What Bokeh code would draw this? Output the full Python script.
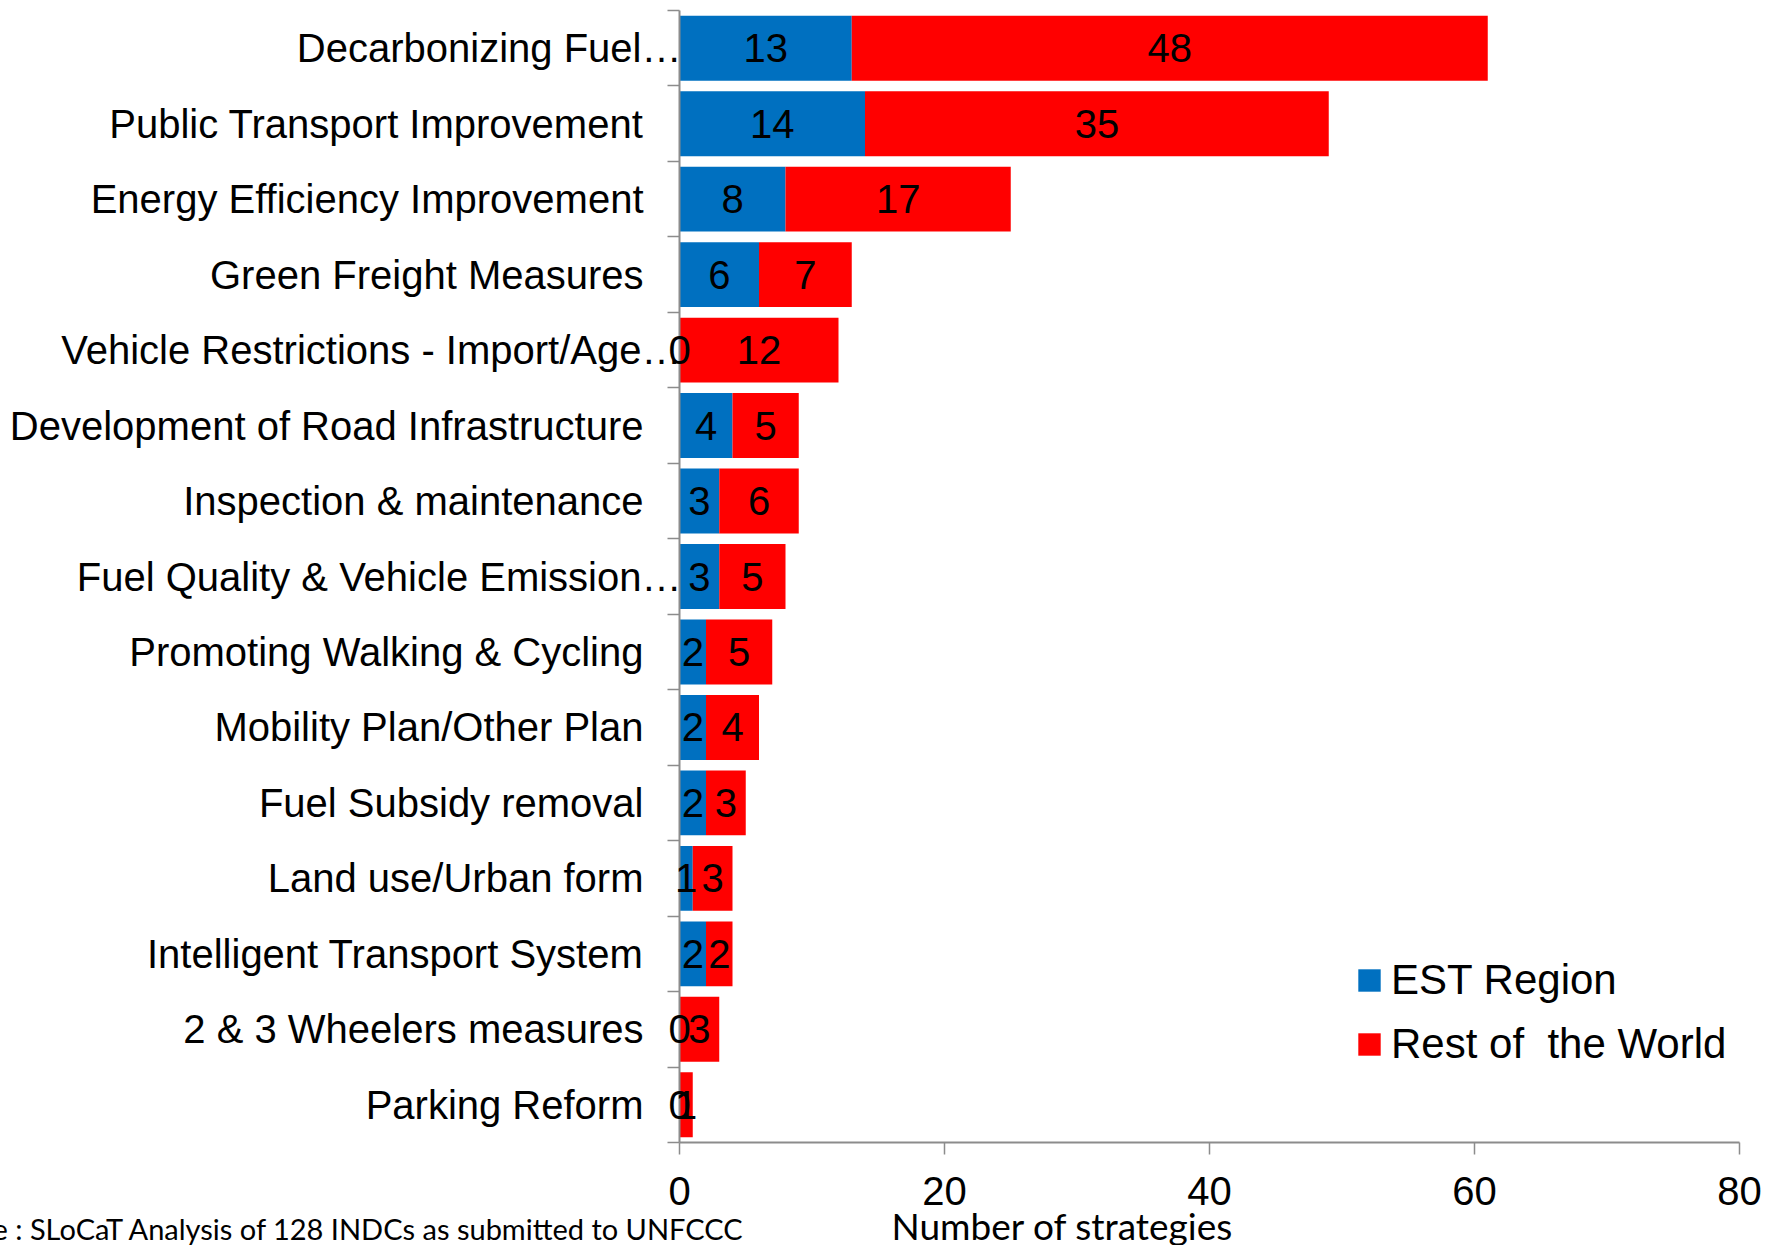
from bokeh.plotting import figure
from bokeh.models import Range1d, FixedTicker, ColumnDataSource, Legend, LegendItem
from bokeh.core.properties import value
from bokeh.embed import file_html
from bokeh.resources import INLINE

categories = [
    "Decarbonizing Fuel…",
    "Public Transport Improvement",
    "Energy Efficiency Improvement",
    "Green Freight Measures",
    "Vehicle Restrictions - Import/Age…",
    "Development of Road Infrastructure",
    "Inspection & maintenance",
    "Fuel Quality & Vehicle Emission…",
    "Promoting Walking & Cycling",
    "Mobility Plan/Other Plan",
    "Fuel Subsidy removal",
    "Land use/Urban form",
    "Intelligent Transport System",
    "2 & 3 Wheelers measures",
    "Parking Reform",
]
est_region = [13, 14, 8, 6, 0, 4, 3, 3, 2, 2, 2, 1, 2, 0, 0]
rest_of_world = [48, 35, 17, 7, 12, 5, 6, 5, 5, 4, 3, 3, 2, 3, 1]
x_ticks = [0, 20, 40, 60, 80]
series_names = ["EST Region", "Rest of  the World"]
x_title = "Number of strategies"
source_note = "Source : SLoCaT Analysis of 128 INDCs  as submitted to UNFCCC"

BLUE = "#0070C0"
RED = "#FF0000"
AXIS = "#8c8c8c"
ARIAL = "Liberation Sans"
CAL = "Lato"

n = len(categories)
ypos = list(range(n))
src = ColumnDataSource(dict(
    y=ypos,
    cat=categories,
    zero=[0] * n,
    # truncated (ellipsised) category names run up to the axis, as in the original
    cat_off=[2 if c.endswith("…") else -36 for c in categories],
    est=est_region,
    rest_left=est_region,
    rest_right=[a + b for a, b in zip(est_region, rest_of_world)],
    est_mid=[a / 2 for a in est_region],
    rest_mid=[a + b / 2 for a, b in zip(est_region, rest_of_world)],
    est_txt=[str(v) for v in est_region],
    rest_txt=[str(v) for v in rest_of_world],
))

p = figure(width=1765, height=1245, output_backend="svg", toolbar_location=None,
           x_range=Range1d(0, 80), y_range=Range1d(n - 0.5, -0.5),
           min_border_left=679, min_border_right=26, min_border_top=10, min_border_bottom=103,
           outline_line_color=None, background_fill_color="white", border_fill_color="white")
p.grid.visible = False

r_est = p.hbar(y="y", left=0, right="est", height=0.86, fill_color=BLUE, line_color=None, source=src)
r_rest = p.hbar(y="y", left="rest_left", right="rest_right", height=0.86, fill_color=RED, line_color=None, source=src)

for xcol, tcol in (("est_mid", "est_txt"), ("rest_mid", "rest_txt")):
    p.text(x=xcol, y="y", text=tcol, source=src, text_font=value(ARIAL), text_font_size="40px",
           text_color="black", text_align="center", text_baseline="middle", level="overlay")

# category names
p.text(x="zero", y="y", text="cat", x_offset="cat_off", source=src, text_font=value(ARIAL),
       text_font_size="40px", text_color="black", text_align="right", text_baseline="middle",
       level="overlay")

# x axis
xa = p.xaxis[0]
xa.ticker = FixedTicker(ticks=x_ticks, minor_ticks=[])
xa.axis_line_color = AXIS
xa.axis_line_width = 2
xa.major_tick_line_color = AXIS
xa.major_tick_line_width = 1.5
xa.major_tick_out = 12
xa.major_tick_in = 0
xa.minor_tick_line_color = None
xa.major_label_text_font = ARIAL
xa.major_label_text_font_size = "40px"
xa.major_label_text_color = "black"
xa.major_label_standoff = 22

# y axis: line + boundary ticks (names drawn above)
ya = p.yaxis[0]
bounds = [i - 0.5 for i in range(n + 1)]
ya.ticker = FixedTicker(ticks=ypos, minor_ticks=bounds)
ya.major_label_overrides = {i: "" for i in ypos}
ya.axis_line_color = AXIS
ya.axis_line_width = 2
ya.major_tick_line_color = None
ya.major_tick_out = 0
ya.major_tick_in = 0
ya.minor_tick_line_color = AXIS
ya.minor_tick_line_width = 1.5
ya.minor_tick_out = 12
ya.minor_tick_in = 0

legend = Legend(items=[LegendItem(label=series_names[0], renderers=[r_est]),
                       LegendItem(label=series_names[1], renderers=[r_rest])],
                location=(676, 74), orientation="vertical",
                label_text_font=ARIAL, label_text_font_size="42px", label_text_color="black",
                glyph_width=28, glyph_height=28, label_standoff=8, spacing=16, padding=0, margin=0,
                border_line_color=None, background_fill_alpha=0)
p.add_layout(legend, "center")

# axis title and source note, below the axis
p.text(x=[16.0], y=[15.60], text=[x_title], text_font=value(CAL), text_font_size="37px",
       text_color="black", text_align="left", text_baseline="alphabetic", level="overlay")
p.text(x=[5.5], y=[15.64], text=[source_note], text_font=value(CAL), text_font_size="29px",
       text_color="black", text_align="right", text_baseline="alphabetic", level="overlay")

open("out.html", "w").write(file_html(p, INLINE))
